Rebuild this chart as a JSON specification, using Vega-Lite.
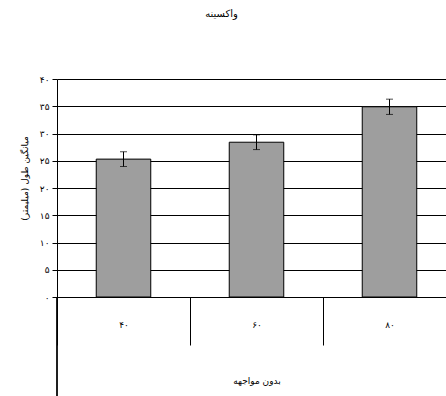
{
  "$schema": "https://vega.github.io/schema/vega-lite/v6.json",
  "width": 389,
  "height": 218,
  "autosize": {"type": "none"},
  "padding": {"left": 57, "top": 79, "right": 0, "bottom": 99},
  "background": "white",
  "title": {"text": "واکسینه", "fontSize": 10, "font": "DejaVu Sans", "fontWeight": "normal", "offset": 56, "dx": -30, "anchor": "middle", "color": "black"},
  "data": {"values": [
    {"group": "۴۰", "mean": 25.3, "err": 1.35},
    {"group": "۶۰", "mean": 28.4, "err": 1.35},
    {"group": "۸۰", "mean": 34.9, "err": 1.4}
  ]},
  "encoding": {
    "x": {
      "field": "group", "type": "nominal", "sort": null,
      "scale": {"range": [0, 399], "paddingInner": 0, "paddingOuter": 0},
      "axis": {
        "tickBand": "extent", "tickSize": 48, "tickColor": "black", "domainColor": "black",
        "labelPadding": -25, "labelFontSize": 9, "labelAngle": 0, "labelColor": "black", "labelFont": "DejaVu Sans",
        "title": "بدون مواجهه", "titlePadding": 31, "titleFontSize": 9, "titleFontWeight": "normal", "titleColor": "black", "titleFont": "DejaVu Sans",
        "grid": false
      }
    },
    "y": {
      "field": "mean", "type": "quantitative", "scale": {"domain": [0, 40]},
      "title": "میانگین طول (میلیمتر)",
      "axis": {
        "values": [0, 5, 10, 15, 20, 25, 30, 35, 40],
        "labelOverlap": false,
        "labelExpr": "replace(replace(replace(replace(replace(replace(datum.label,'0','۰'),'1','۱'),'2','۲'),'3','۳'),'4','۴'),'5','۵')",
        "grid": true, "gridColor": "black", "gridWidth": 1, "gridOpacity": 1,
        "domainColor": "black", "tickColor": "black", "tickSize": 5,
        "labelFontSize": 9, "labelColor": "black", "labelFont": "DejaVu Sans", "labelPadding": 3,
        "titleFontSize": 9, "titleFontWeight": "normal", "titleColor": "black", "titleFont": "DejaVu Sans", "titlePadding": 10,
        "titleY": 99
      }
    }
  },
  "layer": [
    {
      "mark": {"type": "bar", "width": {"band": 0.41}, "fill": "#9e9e9e", "stroke": "black", "strokeWidth": 1}
    },
    {
      "mark": {"type": "errorbar", "ticks": {"size": 7, "color": "black"}, "rule": {"color": "black"}},
      "encoding": {
        "yError": {"field": "err"}
      }
    },
    {
      "mark": {"type": "rule", "color": "black"},
      "encoding": {
        "x": {"datum": "۴۰", "bandPosition": 0},
        "y": {"datum": 0},
        "y2": {"datum": -18.2}
      }
    }
  ]
}
